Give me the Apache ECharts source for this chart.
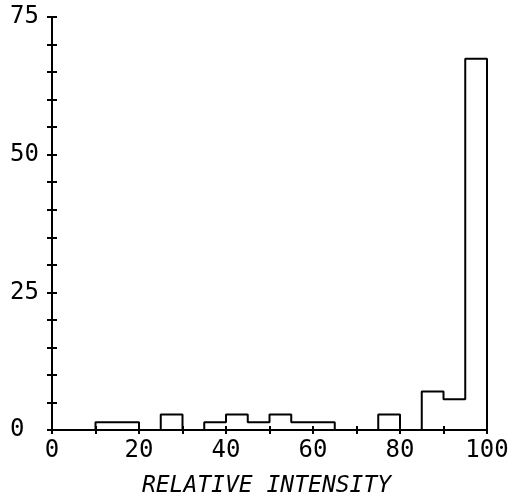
<!DOCTYPE html>
<html>
<head>
<meta charset="utf-8">
<script src="https://cdn.jsdelivr.net/npm/echarts@6/dist/echarts.min.js"></script>
<style>html,body{margin:0;padding:0;background:#fff}#c{width:513px;height:500px}</style>
</head>
<body>
<div id="c"></div>
<script>
// Histogram bins (relative intensity, width 5) and percentage of cases
var binStarts = [0,5,10,15,20,25,30,35,40,45,50,55,60,65,70,75,80,85,90,95];
var binWidth = 5;
var percents = [0,0,1.4,1.4,0,2.8,0,1.4,2.8,1.4,2.8,1.4,1.4,0,0,2.8,0,7.0,5.6,67.4];
var xTickLabels = [0,20,40,60,80,100];
var yTickLabels = [0,25,50,75];
var xTitle = 'RELATIVE INTENSITY';

// Build step outline from the bins
var outline = [];
for (var i = 0; i < binStarts.length; i++) {
  outline.push([binStarts[i], percents[i]]);
  outline.push([binStarts[i] + binWidth, percents[i]]);
}
outline.push([binStarts[binStarts.length-1] + binWidth, 0]);

var font = 'DejaVu Sans Mono';
var gridRect = {left: 52, right: 26, top: 17, bottom: 70, containLabel: false, outerBoundsMode: 'none'};

function xa(gi, inside, showLabel) {
  return {
    gridIndex: gi, type: 'value', min: 0, max: 100, interval: 10, position: 'bottom',
    axisLine: {show: true, onZero: false, lineStyle: {color: '#000', width: 2}},
    axisTick: {show: true, inside: inside, length: 4, lineStyle: {color: '#000', width: 2}},
    splitLine: {show: false},
    axisLabel: {
      show: showLabel, color: '#000', fontFamily: font, fontSize: 24, margin: 9,
      formatter: function (v) { return xTickLabels.indexOf(v) >= 0 ? String(v) : ''; }
    },
    name: showLabel ? xTitle : '',
    nameLocation: 'middle', nameGap: 45,
    nameTextStyle: {color: '#000', fontFamily: font, fontSize: 23, fontStyle: 'italic', padding: [0, 6, 0, 0]}
  };
}
function ya(gi, inside, showLabel) {
  return {
    gridIndex: gi, type: 'value', min: 0, max: 75, interval: 5, position: 'left',
    axisLine: {show: true, onZero: false, lineStyle: {color: '#000', width: 2}},
    axisTick: {show: true, inside: inside, length: 5, lineStyle: {color: '#000', width: 2}},
    splitLine: {show: false},
    axisLabel: {
      show: showLabel, color: '#000', fontFamily: font, fontSize: 24, margin: 42, align: 'left',
      formatter: function (v) { return yTickLabels.indexOf(v) >= 0 ? String(v) : ''; }
    }
  };
}

var chart = echarts.init(document.getElementById('c'), null, {renderer: 'canvas'});
chart.setOption({
  animation: false,
  backgroundColor: '#fff',
  grid: [Object.assign({}, gridRect), Object.assign({}, gridRect)],
  xAxis: [xa(0, false, true), xa(1, true, false)],
  yAxis: [ya(0, false, true), ya(1, true, false)],
  series: [{
    type: 'line',
    xAxisIndex: 0, yAxisIndex: 0,
    data: outline,
    symbol: 'none',
    lineStyle: {color: '#000', width: 2},
    clip: false
  }, {
    type: 'line',
    xAxisIndex: 1, yAxisIndex: 1,
    data: [],
    symbol: 'none'
  }]
});
</script>
</body>
</html>
